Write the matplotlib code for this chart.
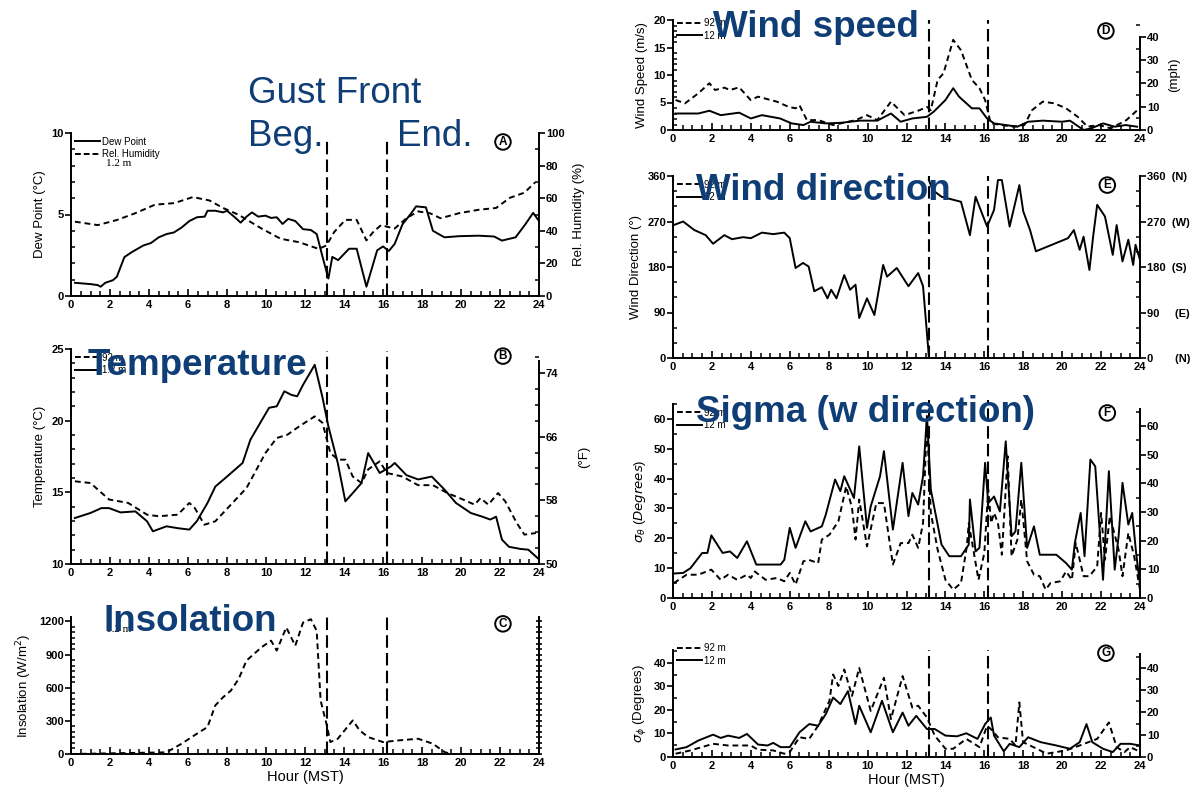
import numpy as np
import matplotlib
matplotlib.use('Agg')
import matplotlib.pyplot as plt
from matplotlib.lines import Line2D
from matplotlib.ticker import MultipleLocator, FixedLocator

plt.rcParams['font.family'] = ['Liberation Sans', 'DejaVu Sans']
plt.rcParams['mathtext.fontset'] = 'dejavusans'

W, H = 1190, 788
NAVY = '#0f3d75'
DASH = (0, (3, 2))

# gust front passage, hour MST (beginning, end)
gust_front = [13.15, 16.2]

# A: dew point (C) and relative humidity (%) at 1.2 m
dew_hr = [0.2, 1.0, 1.37, 1.52, 1.76, 2.15, 2.35, 2.74, 3.13, 3.71, 4.1, 4.5, 4.9, 5.28, 5.67,
          6.07, 6.46, 6.86, 7.0, 7.4, 7.8, 8.0, 8.4, 8.7, 9.0, 9.28, 9.6, 9.97, 10.26, 10.55,
          10.85, 11.14, 11.5, 11.9, 12.3, 12.6, 12.9, 13.2, 13.4, 13.7, 14.26, 14.65, 15.15, 15.7, 16.0,
          16.3, 16.6, 17.0, 17.4, 17.7, 18.2, 18.56, 19.15, 19.9, 20.9, 21.7, 22.1, 22.8, 23.3, 23.7, 24.0]
dew_c = [0.81, 0.73, 0.67, 0.57, 0.81, 0.97, 1.18, 2.39, 2.70, 3.10, 3.25, 3.6, 3.8, 3.9, 4.2,
         4.6, 4.83, 4.87, 5.23, 5.23, 5.13, 5.23, 4.83, 4.5, 4.87, 5.13, 4.87, 4.93, 4.79, 4.83,
         4.42, 4.73, 4.6, 4.1, 4.05, 3.8, 2.4, 1.07, 2.4, 2.2, 2.9, 2.9, 0.57, 2.8, 3.04,
         2.76, 3.2, 4.4, 5.0, 5.5, 5.44, 4.0, 3.6, 3.67, 3.7, 3.65, 3.4, 3.6, 4.4, 5.1, 4.6]
rh_hr = [0.2, 1.37, 2.35, 3.3, 4.3, 5.3, 6.25, 7.1, 7.8, 8.6, 9.77, 10.75, 11.7, 12.7, 13.1, 13.5,
         14.07, 14.65, 15.15, 15.5, 15.9, 16.2, 16.6, 17.2, 17.8, 18.4, 18.95, 19.9, 20.9, 21.8,
         22.5, 23.25, 23.8]
rh_pct = [45.6, 43.5, 46.6, 50.8, 56, 57, 60.7, 58.6, 54, 49.8, 41.4, 35.1, 33, 28.9, 31, 39.3,
          46.7, 46.7, 34.1, 39.3, 43.5, 42.5, 41.4, 47.7, 51.9, 50.8, 47.7, 50.8, 52.9, 54,
          60.2, 63.4, 69.7]

# B: temperature (C) at 1.2 m and 92 m
t12_hr = [0.2, 1.0, 1.56, 1.95, 2.54, 3.3, 3.9, 4.2, 4.9, 5.47, 6.07, 6.46, 7.0, 7.4, 8.0,
          8.8, 9.2, 9.8, 10.16, 10.55, 10.94, 11.3, 11.6, 11.9, 12.5, 12.9, 13.2, 13.68, 14.07, 14.45,
          14.9, 15.24, 15.83, 16.4, 16.6, 17.2, 17.8, 18.5, 19.15, 19.74, 20.5, 21.1, 21.5, 21.8, 22.1,
          22.46, 23.05, 23.45, 23.94]
t12_c = [13.21, 13.56, 13.9, 13.9, 13.6, 13.67, 12.98, 12.28, 12.63, 12.5, 12.4, 13.0, 14.26, 15.4, 16.1,
         17.05, 18.67, 20.07, 20.9, 21.0, 22.05, 21.8, 21.7, 22.5, 23.9, 21.6, 19.6, 17.05, 14.37, 14.95,
         15.65, 17.74, 16.35, 16.8, 17.05, 16.2, 15.9, 16.1, 15.2, 14.26, 13.56, 13.3, 13.1, 13.3, 11.7,
         11.2, 11.05, 11.0, 10.4]
t92_hr = [0.2, 1.0, 1.95, 2.93, 3.9, 4.5, 5.47, 6.07, 6.35, 6.84, 7.4, 8.2, 9.0, 9.97, 10.55, 11.1,
          11.7, 12.5, 12.9, 13.3, 13.7, 14.07, 14.45, 14.9, 15.24, 15.83, 16.2, 17.0, 17.8, 18.56,
          19.3, 20.1, 20.7, 21.0, 21.4, 21.9, 22.27, 22.86, 23.25, 23.84]
t92_c = [15.77, 15.65, 14.5, 14.26, 13.44, 13.33, 13.44, 14.26, 13.9, 12.74, 12.98, 14.14, 15.3, 17.74,
         18.79, 19.02, 19.6, 20.3, 19.84, 17.74, 17.28, 17.28, 16.1, 15.65, 16.6, 17.16, 16.35, 16.1,
         15.5, 15.5, 14.95, 14.5, 14.14, 14.6, 14.14, 14.95, 14.37, 12.86, 12.05, 12.16]
degf_ticks = [50, 58, 66, 74]

# C: insolation (W/m2) at 1.2 m
ins_hr = [0, 4.9, 5.67, 6.45, 7.0, 7.4, 7.8, 8.2, 8.6, 9.0, 9.77, 10.26, 10.55, 11.04, 11.5, 11.9,
          12.3, 12.6, 12.8, 13.1, 13.3, 13.68, 14.45, 14.8, 15.24, 16.0, 16.8, 17.8, 18.56, 19.15, 19.5, 24]
ins_wm2 = [0, 15, 93, 183, 244, 440, 514, 574, 680, 846, 966, 1026, 936, 1146, 980, 1190,
           1220, 1115, 484, 274, 108, 138, 304, 214, 153, 108, 123, 138, 93, 18, 0, 0]

# D: wind speed (m/s) at 92 m and 12 m
ws92_hr = [0.13, 0.62, 1.3, 1.87, 2.16, 2.64, 2.93, 3.4, 3.99, 4.37, 5.34, 5.92, 6.3, 6.5, 6.88,
           7.46, 8.23, 9.39, 9.97, 10.5, 11.2, 11.9, 12.67, 13.05, 13.25, 13.6, 13.9, 14.4, 14.8, 15.36,
           15.75, 16.04, 16.33, 16.9, 17.5, 18.06, 18.45, 19.0, 19.6, 20.2, 20.8, 21.3, 21.9, 22.5,
           23.3, 23.86]
ws92_ms = [5.45, 4.85, 6.67, 8.5, 7.27, 7.7, 7.27, 7.76, 5.45, 6.06, 5.15, 4.24, 3.94, 4.5, 1.8,
           1.8, 0.9, 1.8, 2.7, 1.8, 5.15, 2.7, 3.6, 4.2, 3.6, 9.1, 10.3, 16.4, 14.5, 9.1,
           7.6, 5.45, 1.2, 0.9, 0.6, 0.9, 3.6, 5.15, 4.85, 3.94, 2.4, 0.6, 0.9, 0.3, 1.8, 3.6]
ws12_hr = [0.13, 1.3, 1.87, 2.45, 3.4, 4.0, 4.57, 5.5, 6.1, 6.7, 7.07, 7.85, 8.6, 9.6, 10.5, 11.2,
           11.7, 12.3, 13.05, 13.4, 14.0, 14.4, 14.7, 15.36, 15.75, 16.14, 16.5, 17.1, 17.7, 18.25,
           19.0, 20.0, 20.4, 21.1, 21.5, 22.1, 22.7, 23.27, 23.85]
ws12_ms = [3.0, 3.0, 3.5, 2.7, 3.15, 2.1, 2.7, 2.1, 1.2, 0.9, 1.5, 1.2, 1.3, 1.7, 1.7, 3.0,
           1.5, 2.1, 2.4, 3.33, 5.45, 7.6, 6.06, 3.94, 3.94, 2.1, 1.2, 0.9, 0.6, 1.5,
           1.7, 1.5, 1.7, 0.0, 0.3, 1.2, 0.6, 0.9, 0.6]

# E: wind direction (deg) at 12 m, gap where it wraps through north
wd_hr = [0.04, 0.52, 1.1, 1.68, 2.06, 2.64, 3.03, 3.6, 4.0, 4.57, 5.15, 5.72, 6.0, 6.3, 6.68, 6.97,
         7.26, 7.65, 7.94, 8.13, 8.4, 8.8, 9.1, 9.38, 9.57, 9.97, 10.35, 10.8, 11.0, 11.5, 12.1,
         12.6, 12.85, 13.15, 13.15, 13.15, 13.35, 13.8, 14.4, 14.8, 15.26, 15.55, 16.14, 16.5, 16.7,
         16.9, 17.3, 17.8, 18.0, 18.35, 18.65, 20.3, 20.6, 20.9, 21.1, 21.4, 21.6, 21.8, 22.2, 22.6,
         22.8, 23.1, 23.4, 23.65, 23.77, 24.0]
wd_deg = [263, 270, 253, 243, 226, 243, 235, 239, 237, 248, 245, 248, 237, 178, 188, 181,
          132, 140, 118, 135, 118, 164, 135, 145, 79, 118, 85, 184, 161, 178, 142,
          168, 142, 3, np.nan, 352, 332, 319, 313, 309, 243, 319, 260, 293, 352,
          352, 260, 342, 290, 253, 211, 237, 253, 214, 240, 174, 243, 303, 280, 204,
          263, 191, 234, 184, 224, 194]
compass_ticks = [0, 90, 180, 270, 360]
compass_labels = ['0       (N)', '90     (E)', '180  (S)', '270  (W)', '360  (N)']

# F: sigma theta (deg) at 12 m and 92 m
sf12_hr = [0.04, 0.52, 0.9, 1.5, 1.77, 1.97, 2.55, 2.93, 3.3, 3.8, 4.28, 5.53, 5.72, 6.0, 6.3, 6.8,
           7.07, 7.65, 7.85, 8.33, 8.6, 8.8, 9.3, 9.57, 9.97, 10.16, 10.64, 10.84, 11.3, 11.8, 12.1,
           12.3, 12.6, 12.85, 13.05, 13.25, 13.8, 14.2, 14.8, 15.2, 15.26, 15.55, 15.75, 16.04, 16.2,
           16.5, 16.8, 17.1, 17.4, 17.6, 17.9, 18.2, 18.55, 18.85, 19.7, 20.2, 20.5, 20.65, 20.95,
           21.15, 21.45, 21.7, 22.1, 22.4, 22.7, 22.9, 23.1, 23.4, 23.6, 23.8, 24.0]
sf12_deg = [8.2, 8.4, 10, 15.1, 15.1, 21, 15.1, 15.6, 13.4, 19, 11.2, 11.2, 12.8, 23.5, 16.8, 25.7,
            22.3, 24, 27.9, 39.7, 35.8, 40.8, 33.5, 50.8, 23.5, 30.7, 40.8, 49.2, 22.9, 45.3, 27.4,
            35.2, 31.3, 40.8, 61, 36.3, 17.9, 14, 14, 17.9, 33, 15.6, 16.8, 45.3, 31.8,
            34, 29, 52.5, 20.7, 22.3, 45.3, 16.8, 24, 14.5, 14.5, 11.7, 9.5, 18.4, 28.5,
            14, 46.4, 44.1, 6.1, 42.5, 9.5, 20.7, 38.6, 24.6, 28.5, 15.1, 4.5]
sf92_hr = [0.04, 0.7, 1.3, 1.97, 2.45, 2.83, 3.3, 3.8, 4.0, 4.2, 4.76, 5.34, 5.72, 6.0, 6.3, 6.7,
           6.97, 7.46, 7.65, 8.04, 8.5, 8.9, 9.2, 9.38, 9.57, 9.97, 10.45, 10.84, 11.3, 11.7, 12.1,
           12.3, 12.6, 12.85, 13.05, 13.25, 13.6, 14.0, 14.4, 14.8, 15.1, 15.2, 15.7, 16.0, 16.2,
           16.35, 16.5, 16.7, 16.9, 17.2, 17.4, 17.7, 17.9, 18.2, 18.55, 18.85, 19.15, 19.4, 19.9,
           20.2, 20.5, 20.7, 21.1, 21.4, 21.8, 22.0, 22.2, 22.45, 22.9, 23.1, 23.4, 23.7, 24.0]
sf92_deg = [5, 7.8, 7.8, 9.5, 6.1, 7.8, 6.1, 7.8, 6.7, 8.9, 6.1, 6.7, 5.6, 8.4, 4.5, 12.3,
            12.8, 11.7, 19.6, 21.2, 25.7, 37.4, 30.2, 19.6, 33, 17.3, 31.8, 31.8, 11.2, 18.4, 18.4,
            21.2, 16.8, 25.1, 59.8, 28.5, 16.2, 6.1, 2.8, 5, 17.3, 25.1, 6.1, 15.1, 36.3,
            25.1, 28.5, 25.1, 14.5, 47.5, 14, 19.6, 33, 12.3, 7.8, 7.3, 2.8, 5, 5.6,
            8.9, 6.1, 18.4, 7.3, 7.3, 10.6, 28.5, 12.8, 27.4, 16.2, 7.3, 21.8, 14, 2.8]

# G: sigma phi (deg) at 12 m and 92 m
sg12_hr = [0.13, 0.7, 1.3, 2.06, 2.45, 2.83, 3.4, 3.8, 4.37, 4.86, 5.15, 5.53, 6.0, 6.5, 7.0, 7.46,
           7.85, 8.23, 8.6, 8.99, 9.38, 9.57, 10.16, 10.74, 11.3, 11.8, 12.1, 12.5, 13.05, 13.45,
           14.0, 14.6, 15.07, 15.65, 16.04, 16.33, 16.5, 17.0, 17.3, 17.8, 18.25, 18.9, 19.7, 20.4,
           20.9, 21.25, 21.55, 22.1, 22.6, 23.0, 23.5, 24.0]
sg12_deg = [3.2, 4.2, 7.0, 9.5, 8.1, 9.1, 8.1, 9.8, 5.3, 4.9, 6.0, 4.2, 4.2, 10.5, 14, 13.3,
            18.2, 25.3, 22.5, 28, 14, 21.8, 10.5, 23.9, 10.5, 18.9, 13.3, 17.5, 11.9, 11.9,
            9.1, 8.8, 10.1, 7.7, 14, 16.8, 9.1, 2.4, 5.6, 4.2, 8.4, 6.3, 4.9, 3.5,
            6.3, 14, 6.3, 3.5, 2.1, 5.6, 5.6, 4.9]
sg92_hr = [0.13, 0.9, 2.06, 2.83, 3.99, 4.37, 5.15, 5.72, 6.0, 6.5, 7.0, 7.46, 8.04, 8.23, 8.5, 8.8,
           9.2, 9.57, 10.16, 10.84, 11.2, 11.8, 12.3, 12.6, 13.05, 13.45, 14.0, 14.4, 15.07, 15.75,
           16.14, 16.33, 16.7, 17.3, 17.6, 17.8, 17.99, 18.7, 19.2, 20.2, 20.9, 21.35, 21.8, 22.4,
           22.8, 23.2, 23.5, 23.85]
sg92_deg = [1.4, 2.8, 5.6, 4.9, 4.9, 3.1, 2.8, 1.4, 2.1, 8.4, 7.7, 13.3, 23.9, 35.1, 30.2, 37.2,
            26, 37.9, 19.6, 33.7, 16.1, 34.4, 21, 21.8, 16.8, 9.1, 3.5, 3.5, 7.7, 4.2,
            13.3, 11.9, 8.4, 7.7, 4.9, 23.2, 6.3, 3.5, 1.4, 2.8, 4.9, 6.3, 7.7, 14.7,
            4.2, 2.1, 4.2, 2.8]


fig = plt.figure(figsize=(W / 100, H / 100), dpi=100)
TICK_FS = 8


def add_panel(x0, x1, ytop, ybot):
    # axes placed by pixel box of the plotting area
    return fig.add_axes([x0 / W, 1 - ybot / H, (x1 - x0) / W, (ybot - ytop) / H])


def style_axes(ax, ylim, major, minor, ylabel, xlabel=None):
    ax.set_xlim(0, 24)
    ax.set_ylim(*ylim)
    ax.spines['top'].set_visible(False)
    ax.spines['right'].set_visible(False)
    for s in ['left', 'bottom']:
        ax.spines[s].set_linewidth(1.4)
    ax.xaxis.set_major_locator(MultipleLocator(2))
    ax.xaxis.set_minor_locator(MultipleLocator(0.5))
    ax.yaxis.set_major_locator(MultipleLocator(major))
    ax.yaxis.set_minor_locator(MultipleLocator(minor))
    ax.tick_params(axis='x', which='major', direction='in', length=5, width=1.2, pad=3)
    ax.tick_params(axis='x', which='minor', direction='in', length=3.5, width=1.1)
    ax.tick_params(axis='y', which='major', direction='out', length=4, width=1.2, pad=1)
    ax.tick_params(axis='y', which='minor', direction='in', length=3, width=1.1)
    for lab in ax.get_xticklabels() + ax.get_yticklabels():
        lab.set_fontsize(TICK_FS)
        lab.set_fontweight('bold')
    ax.set_ylabel(ylabel, fontsize=9.5)
    if xlabel:
        ax.set_xlabel(xlabel, fontsize=10.5, labelpad=1)


def add_right(ax, ylim, major, minor, bounds=None, ylabel=None, labels=True, labelpad=4):
    r = ax.twinx()
    r.set_ylim(*ylim)
    for s in ['left', 'top', 'bottom']:
        r.spines[s].set_visible(False)
    r.spines['right'].set_linewidth(1.4)
    if bounds:
        r.spines['right'].set_bounds(*bounds)
    if isinstance(major, list):
        r.yaxis.set_major_locator(FixedLocator(major))
    else:
        r.yaxis.set_major_locator(MultipleLocator(major))
    r.yaxis.set_minor_locator(MultipleLocator(minor))
    r.tick_params(axis='y', which='major', direction='out', length=4, width=1.2, pad=1,
                  labelright=labels)
    r.tick_params(axis='y', which='minor', direction='in', length=3, width=1.1)
    for lab in r.get_yticklabels():
        lab.set_fontsize(TICK_FS)
        lab.set_fontweight('bold')
    if ylabel:
        r.set_ylabel(ylabel, fontsize=9.5, labelpad=labelpad)
    return r


def mark_front(ax, ymax=1.0):
    for t in gust_front:
        ax.axvline(t, ymin=0, ymax=ymax, color='black', lw=1.5, ls=(0, (6, 2.5)), clip_on=False)


def circled(ax, letter, x, y):
    ax.text(x, y, letter, transform=ax.transAxes, ha='center', va='center', fontsize=8.5,
            fontweight='bold',
            bbox=dict(boxstyle='circle,pad=0.15', fc='white', ec='black', lw=1.4))


def legend2(ax, labels, styles, y=1.0):
    handles = [Line2D([], [], color='black', lw=1.4, ls=s) for s in styles]
    ax.legend(handles, labels, loc='upper left', bbox_to_anchor=(0.0, y), frameon=False,
              fontsize=7, handlelength=2.6, handletextpad=0.2, borderaxespad=0.3,
              labelspacing=0.25, borderpad=0.1)


LW = 1.4

# ---------------- left column ----------------
LX0, LX1 = 71, 539
RX0, RX1 = 673, 1140

# A
axA = add_panel(LX0, LX1, 133, 296)
style_axes(axA, (0, 10), 5, 1, 'Dew Point (°C)')
axA.plot(dew_hr, dew_c, color='black', lw=LW)
rA = add_right(axA, (0, 100), 20, 10, ylabel='Rel. Humidity (%)', labelpad=6)
rA.plot(rh_hr, rh_pct, color='black', lw=LW, ls=DASH)
mark_front(axA, 0.95)
legend2(axA, ['Dew Point', 'Rel. Humidity'], ['-', (0, (3, 1.5))])
axA.text(0.075, 0.80, '1.2 m', transform=axA.transAxes, fontsize=8, family='Liberation Serif')
circled(axA, 'A', 0.923, 0.945)

# B
axB = add_panel(LX0, LX1, 349, 564)
style_axes(axB, (10, 25), 5, 1, 'Temperature (°C)')
axB.plot(t12_hr, t12_c, color='black', lw=LW)
axB.plot(t92_hr, t92_c, color='black', lw=LW, ls=DASH)
rB = add_right(axB, (50, 77), degf_ticks, 2, bounds=(50, 75.5), ylabel='(°F)', labelpad=14)
mark_front(axB, 0.99)
legend2(axB, ['92 m', '1.2 m'], [(0, (3, 1.5)), '-'])
circled(axB, 'B', 0.923, 0.967)

# C
axC = add_panel(LX0, LX1, 617, 754)
style_axes(axC, (0, 1240), 300, 50, 'Insolation (W/m$^2$)', 'Hour (MST)')
axC.plot(ins_hr, ins_wm2, color='black', lw=LW, ls=DASH)
rC = add_right(axC, (0, 1240), 100, 50, labels=False)
rC.tick_params(axis='y', which='both', direction='inout', length=5)
mark_front(axC, 1.03)
axC.text(0.075, 0.89, '1.2 m', transform=axC.transAxes, fontsize=8, family='Liberation Serif')
circled(axC, 'C', 0.923, 0.95)

# ---------------- right column ----------------
# D
axD = add_panel(RX0, RX1, 20, 130)
style_axes(axD, (0, 20), 5, 1, 'Wind Speed (m/s)')
axD.plot(ws92_hr, ws92_ms, color='black', lw=LW, ls=DASH)
axD.plot(ws12_hr, ws12_ms, color='black', lw=LW)
rD = add_right(axD, (0, 47.3), 10, 5, bounds=(0, 40), ylabel='(mph)', labelpad=6)
mark_front(axD, 1.0)
legend2(axD, ['92 m', '12 m'], [(0, (3, 1.5)), '-'], y=1.05)
circled(axD, 'D', 0.927, 0.9)

# E
axE = add_panel(RX0, RX1, 176, 358)
style_axes(axE, (0, 360), 90, 30, 'Wind Direction (°)')
axE.plot(wd_hr, wd_deg, color='black', lw=LW)
rE = add_right(axE, (0, 360), compass_ticks, 30)
rE.set_yticklabels(compass_labels, fontsize=TICK_FS, fontweight='bold')
mark_front(axE, 1.0)
legend2(axE, ['92 m', '12 m'], [(0, (3, 1.5)), '-'])
circled(axE, 'E', 0.93, 0.95)

# F
axF = add_panel(RX0, RX1, 404, 598)
style_axes(axF, (0, 65), 10, 5, r'$\sigma_\theta$ ($\it{Degrees}$)')
axF.plot(sf92_hr, sf92_deg, color='black', lw=LW, ls=DASH)
axF.plot(sf12_hr, sf12_deg, color='black', lw=LW)
rF = add_right(axF, (0, 67.7), 10, 5, bounds=(0, 66))
mark_front(axF, 1.02)
legend2(axF, ['92 m', '12 m'], [(0, (3, 1.5)), '-'])
circled(axF, 'F', 0.93, 0.954)

# G
axG = add_panel(RX0, RX1, 650, 757)
style_axes(axG, (0, 45.5), 10, 5, r'$\sigma_\phi$ (Degrees)', 'Hour (MST)')
axG.plot(sg92_hr, sg92_deg, color='black', lw=LW, ls=DASH)
axG.plot(sg12_hr, sg12_deg, color='black', lw=LW)
rG = add_right(axG, (0, 48), 10, 5, bounds=(0, 46))
mark_front(axG, 1.0)
legend2(axG, ['92 m', '12 m'], [(0, (3, 1.5)), '-'], y=1.1)
circled(axG, 'G', 0.927, 0.97)


# ---------------- overlaid slide titles ----------------
def title(x, base, s, weight='bold'):
    fig.text(x / W, 1 - base / H, s, fontsize=26.5, color=NAVY, fontweight=weight,
             va='baseline', ha='left', zorder=10)


title(248, 103, 'Gust Front', 'normal')
title(248, 146, 'Beg.', 'normal')
title(397, 146, 'End.', 'normal')
title(88, 375, 'Temperature')
title(103, 631, 'Insolation')
title(713, 37, 'Wind speed')
title(696, 200, 'Wind direction')
title(696, 422, 'Sigma (w direction)')

fig.savefig('out.png', dpi=100, facecolor='white')
